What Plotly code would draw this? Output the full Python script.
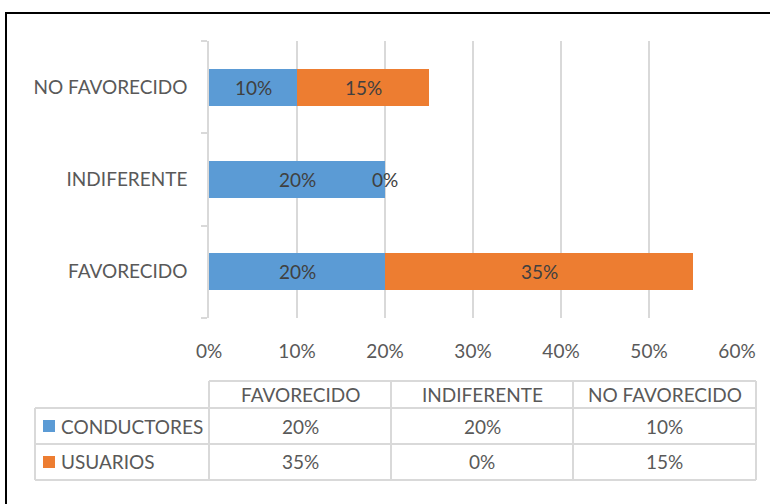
import plotly.graph_objects as go

categories = ["FAVORECIDO", "INDIFERENTE", "NO FAVORECIDO"]
series_names = ["CONDUCTORES", "USUARIOS"]
conductores = [0.20, 0.20, 0.10]
usuarios = [0.35, 0.00, 0.15]
x_ticks = [0, 0.1, 0.2, 0.3, 0.4, 0.5, 0.6]
table_columns = ["FAVORECIDO", "INDIFERENTE", "NO FAVORECIDO"]

BLUE = "#5B9BD5"
ORANGE = "#ED7D31"
FONT = "Lato, Carlito, Calibri, sans-serif"
GRID = "#D9D9D9"

W, H = 770, 504
L, R, T, B = 209, 737, 41, 318


def px(x):
    return (x - L) / (R - L)


def py(y):
    return (B - y) / (B - T)


fig = go.Figure()
fig.add_trace(go.Bar(y=categories, x=conductores, orientation="h", name=series_names[0],
                     marker=dict(color=BLUE, line=dict(width=0)), textposition="none"))
fig.add_trace(go.Bar(y=categories, x=usuarios, orientation="h", name=series_names[1],
                     marker=dict(color=ORANGE, line=dict(width=0)), textposition="none"))

annotations = []
lblfont = dict(family=FONT, size=19, color="#404040")
for i, c in enumerate(categories):
    a = conductores[i]
    b = usuarios[i]
    annotations.append(dict(x=a / 2, y=c, xref="x", yref="y", text=f"{a:.0%}", showarrow=False,
                            xanchor="center", yanchor="middle", font=lblfont))
    annotations.append(dict(x=a + b / 2, y=c, xref="x", yref="y", text=f"{b:.0%}", showarrow=False,
                            xanchor="center", yanchor="middle", font=lblfont))

shapes = []
# outer chart border
shapes.append(dict(type="rect", xref="paper", yref="paper", x0=px(6), x1=px(780), y0=py(13), y1=py(515),
                   line=dict(color="black", width=2), fillcolor="rgba(0,0,0,0)", layer="above"))

# data table grid
col_x = [209, 391, 573, 756]
row_y = [381, 408, 444, 480]
lc = dict(color=GRID, width=2)
shapes.append(dict(type="line", xref="paper", yref="paper", x0=px(col_x[0]), x1=px(col_x[-1]),
                   y0=py(row_y[0]), y1=py(row_y[0]), line=lc))
for yy in row_y[1:]:
    shapes.append(dict(type="line", xref="paper", yref="paper", x0=px(35), x1=px(col_x[-1]),
                       y0=py(yy), y1=py(yy), line=lc))
for xx in col_x:
    shapes.append(dict(type="line", xref="paper", yref="paper", x0=px(xx), x1=px(xx),
                       y0=py(row_y[0]), y1=py(row_y[-1]), line=lc))
shapes.append(dict(type="line", xref="paper", yref="paper", x0=px(35), x1=px(35),
                   y0=py(row_y[1]), y1=py(row_y[-1]), line=lc))

tfont = dict(family=FONT, size=19, color="#595959")
for j, col in enumerate(table_columns):
    cx = (col_x[j] + col_x[j + 1]) / 2
    annotations.append(dict(x=px(cx), y=py((row_y[0] + row_y[1]) / 2), xref="paper", yref="paper",
                            text=col, showarrow=False, xanchor="center", yanchor="middle", font=tfont))
series_vals = [conductores, usuarios]
colors = [BLUE, ORANGE]
for r, name in enumerate(series_names):
    y0, y1 = row_y[r + 1], row_y[r + 2]
    cy = (y0 + y1) / 2
    shapes.append(dict(type="rect", xref="paper", yref="paper", x0=px(43), x1=px(55),
                       y0=py(cy - 6), y1=py(cy + 6), fillcolor=colors[r], line=dict(width=0)))
    annotations.append(dict(x=px(59), y=py(cy), xref="paper", yref="paper", text=name, showarrow=False,
                            xanchor="left", yanchor="middle", font=tfont))
    vals = dict(zip(categories, series_vals[r]))
    for j, col in enumerate(table_columns):
        cx = (col_x[j] + col_x[j + 1]) / 2
        annotations.append(dict(x=px(cx), y=py(cy), xref="paper", yref="paper",
                                text=f"{vals[col]:.0%}", showarrow=False,
                                xanchor="center", yanchor="middle", font=tfont))

fig.update_layout(
    width=W, height=H,
    barmode="stack", bargap=0.6, showlegend=False,
    plot_bgcolor="white", paper_bgcolor="white",
    margin=dict(l=L, r=W - R, t=T, b=H - B, pad=0),
    xaxis=dict(range=[0, 0.6], tickvals=x_ticks, tickformat=".0%", showgrid=True, gridcolor=GRID, gridwidth=1.5,
               zeroline=False, showline=False, ticks="", ticklabelstandoff=20,
               tickfont=dict(family=FONT, size=19, color="#595959"), fixedrange=True),
    yaxis=dict(range=[-0.5, 2.5], categoryorder="array", categoryarray=categories, showline=True,
               linecolor=GRID, linewidth=1.5, ticks="outside", tickson="boundaries", ticklen=6,
               tickcolor=GRID, tickwidth=1.5, showgrid=False, zeroline=False, ticklabelstandoff=16,
               tickfont=dict(family=FONT, size=19, color="#595959"), fixedrange=True),
    shapes=shapes, annotations=annotations,
)

fig.write_html("out.html", config={"displayModeBar": False},
               post_script="document.body.style.margin='0px';document.body.style.overflow='hidden';")
